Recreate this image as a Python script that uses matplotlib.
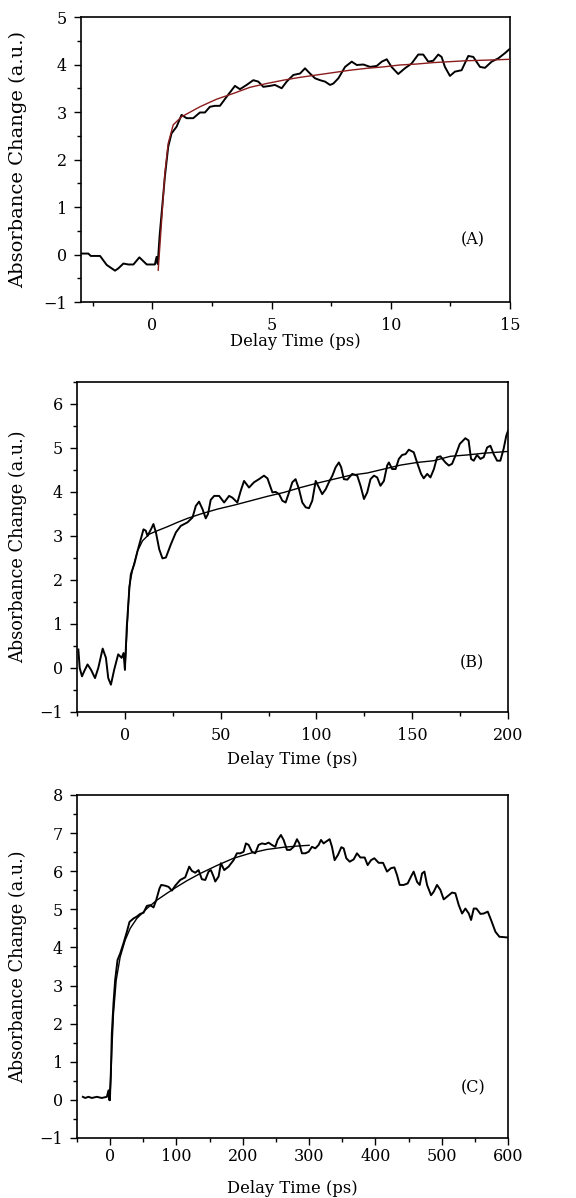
import matplotlib
matplotlib.use("Agg")
import matplotlib.pyplot as plt
from matplotlib.ticker import MultipleLocator

plt.rcParams['font.family'] = ['DejaVu Serif']
plt.rcParams['font.size'] = 11

# panel A (0-15 ps)
a_t = [-3.0, -2.69, -2.59, -2.2, -1.92, -1.57, -1.43, -1.22, -1.01, -0.8, -0.55, -0.24,
       0.1, 0.17, 0.22, 0.3, 0.52, 0.66, 0.8, 1.01, 1.22, 1.43, 1.71, 1.99, 2.2, 2.41,
       2.62, 2.83, 3.11, 3.46, 3.67, 3.95, 4.23, 4.44, 4.65, 4.93, 5.14, 5.42, 5.63,
       5.91, 6.19, 6.4, 6.61, 6.82, 7.03, 7.24, 7.45, 7.59, 7.8, 8.08, 8.36, 8.57,
       8.85, 9.13, 9.41, 9.62, 9.83, 10.03, 10.31, 10.59, 10.87, 11.15, 11.36, 11.57,
       11.78, 11.99, 12.13, 12.27, 12.48, 12.69, 12.97, 13.25, 13.46, 13.74, 13.95,
       14.23, 14.51, 14.79, 14.97]
a_data = [0.02, 0.02, -0.03, -0.03, -0.22, -0.34, -0.29, -0.19, -0.21, -0.21, -0.06, -0.21,
          -0.21, -0.05, -0.2, 0.4, 1.64, 2.27, 2.55, 2.69, 2.94, 2.87, 2.87, 2.99, 2.99,
          3.11, 3.13, 3.13, 3.32, 3.55, 3.48, 3.57, 3.67, 3.64, 3.53, 3.55, 3.57, 3.5,
          3.64, 3.78, 3.81, 3.92, 3.81, 3.71, 3.67, 3.64, 3.57, 3.6, 3.71, 3.95, 4.06,
          3.99, 4.0, 3.95, 3.97, 4.06, 4.11, 3.95, 3.8, 3.92, 4.02, 4.21, 4.21, 4.06,
          4.08, 4.21, 4.16, 3.95, 3.76, 3.85, 3.88, 4.18, 4.16, 3.95, 3.93, 4.06, 4.13,
          4.24, 4.32]
a_fit_t = [0.24, 0.52, 0.66, 0.87, 1.22, 1.99, 2.69, 3.39, 4.09, 4.79, 5.49, 6.19, 6.89,
           7.59, 8.29, 8.99, 9.69, 10.38, 11.08, 11.78, 12.48, 13.18, 13.88, 15.0]
a_fit = [-0.33, 1.71, 2.34, 2.73, 2.9, 3.11, 3.27, 3.39, 3.52, 3.6, 3.67, 3.73, 3.78,
         3.83, 3.88, 3.92, 3.95, 3.99, 4.01, 4.04, 4.06, 4.08, 4.09, 4.11]

# panel B (0-200 ps)
b_t = [-24.3, -23.6, -22.4, -21.2, -19.5, -17.7, -15.6, -13.9, -11.6, -9.9, -8.7, -7.3,
       -5.6, -3.5, -1.7, -0.7, 0.0, 1.0, 2.3, 3.1, 4.9, 6.6, 8.3, 9.7, 10.9, 11.8, 13.6,
       14.9, 16.2, 17.9, 19.6, 21.4, 24.0, 26.6, 29.2, 32.7, 35.3, 37.0, 38.7, 40.5,
       42.2, 43.4, 44.8, 46.6, 49.2, 51.8, 54.4, 56.1, 58.7, 60.5, 62.2, 64.8, 67.4,
       70.0, 72.6, 74.4, 75.8, 77.0, 78.7, 80.5, 82.2, 83.9, 85.7, 87.4, 89.1, 90.9,
       92.6, 94.4, 96.1, 97.8, 99.6, 101.3, 103.0, 104.8, 106.5, 108.3, 110.0, 111.7,
       112.9, 114.3, 116.1, 118.7, 121.3, 123.0, 124.8, 126.5, 128.2, 130.0, 131.7,
       133.4, 135.2, 136.9, 137.8, 139.5, 141.3, 143.0, 144.7, 146.5, 148.2, 150.8,
       152.5, 154.6, 156.0, 157.8, 159.5, 161.3, 163.0, 164.7, 167.3, 169.1, 170.8,
       172.5, 174.8, 177.7, 179.4, 180.7, 182.1, 183.8, 185.6, 187.3, 189.1, 190.8,
       192.5, 194.3, 196.0, 197.7, 199.1, 200.0]
b_data = [0.42, 0.0, -0.19, -0.07, 0.08, -0.04, -0.23, 0.0, 0.44, 0.23, -0.23, -0.38,
          -0.04, 0.31, 0.23, 0.34, -0.04, 0.95, 1.79, 2.13, 2.36, 2.66, 2.93, 3.15, 3.12,
          3.0, 3.15, 3.27, 3.08, 2.7, 2.49, 2.51, 2.81, 3.08, 3.23, 3.31, 3.42, 3.68,
          3.78, 3.61, 3.4, 3.5, 3.82, 3.91, 3.91, 3.76, 3.91, 3.87, 3.76, 4.03, 4.25,
          4.1, 4.22, 4.29, 4.37, 4.31, 4.14, 3.99, 4.0, 3.95, 3.8, 3.76, 3.99, 4.22,
          4.29, 4.06, 3.76, 3.65, 3.63, 3.8, 4.25, 4.1, 3.95, 4.06, 4.22, 4.37, 4.56,
          4.67, 4.56, 4.29, 4.28, 4.41, 4.37, 4.14, 3.84, 3.99, 4.29, 4.37, 4.33, 4.14,
          4.25, 4.6, 4.67, 4.52, 4.52, 4.75, 4.84, 4.86, 4.96, 4.9, 4.67, 4.41, 4.31,
          4.41, 4.33, 4.52, 4.79, 4.81, 4.67, 4.6, 4.64, 4.82, 5.09, 5.22, 5.17, 4.75,
          4.71, 4.84, 4.75, 4.79, 5.01, 5.05, 4.86, 4.71, 4.71, 4.98, 5.28, 5.39]
b_fit_t = [0.0, 2.3, 4.0, 6.6, 9.2, 12.7, 17.0, 22.2, 27.5, 32.7, 39.6, 48.3, 57.0, 65.7,
           74.4, 83.1, 91.7, 100.4, 109.1, 117.8, 126.5, 135.2, 143.9, 152.6, 161.3,
           169.9, 178.6, 187.3, 200.0]
b_fit = [-0.04, 1.86, 2.24, 2.66, 2.89, 3.04, 3.12, 3.21, 3.31, 3.4, 3.5, 3.61, 3.7, 3.8,
         3.9, 3.99, 4.1, 4.2, 4.29, 4.38, 4.43, 4.52, 4.61, 4.67, 4.71, 4.81, 4.84,
         4.88, 4.92]

# panel C (0-600 ps)
c_t = [-41.2, -37.7, -32.7, -27.7, -20.1, -12.6, -5.0, -2.5, -1.0, 1.0, 2.5, 5.0, 7.5,
       11.1, 15.1, 20.1, 25.2, 29.2, 35.2, 40.2, 45.3, 50.3, 55.3, 60.4, 65.4, 69.4,
       74.4, 77.0, 83.0, 88.0, 93.1, 98.1, 105.6, 113.2, 119.2, 123.2, 128.3, 133.3,
       138.3, 143.4, 148.4, 151.9, 155.9, 158.5, 163.5, 167.0, 172.0, 178.6, 186.1,
       191.1, 196.2, 201.2, 204.7, 208.8, 213.8, 218.8, 223.8, 228.9, 233.9, 238.9,
       243.9, 249.0, 252.5, 257.5, 261.6, 266.6, 271.6, 276.7, 281.7, 285.2, 289.2,
       294.3, 299.3, 304.3, 309.4, 314.4, 317.9, 321.9, 325.9, 331.0, 334.5, 338.5,
       343.6, 348.6, 352.1, 356.1, 361.2, 367.2, 372.2, 377.3, 383.8, 388.3, 393.4,
       398.4, 404.9, 411.5, 417.5, 423.5, 428.6, 432.6, 436.6, 442.7, 448.7, 453.7,
       457.7, 462.8, 466.8, 470.3, 473.9, 477.9, 483.9, 487.9, 492.9, 498.0, 503.0,
       510.6, 515.6, 520.6, 525.7, 530.7, 535.7, 540.8, 544.3, 548.3, 552.3, 558.4,
       563.4, 569.4, 574.4, 581.0, 587.0, 600.0]
c_data = [0.08, 0.05, 0.08, 0.05, 0.08, 0.05, 0.08, 0.25, -0.01, 0.69, 1.74, 2.53, 3.14,
          3.67, 3.84, 4.11, 4.41, 4.67, 4.76, 4.81, 4.88, 4.91, 5.09, 5.11, 5.05, 5.24,
          5.55, 5.64, 5.62, 5.59, 5.49, 5.62, 5.77, 5.84, 6.12, 6.01, 5.96, 6.03, 5.79,
          5.77, 5.99, 6.03, 5.86, 5.73, 5.86, 6.21, 6.03, 6.12, 6.29, 6.47, 6.47, 6.51,
          6.73, 6.69, 6.51, 6.47, 6.69, 6.73, 6.71, 6.75, 6.69, 6.64, 6.82, 6.95, 6.82,
          6.56, 6.56, 6.64, 6.84, 6.73, 6.47, 6.47, 6.51, 6.64, 6.6, 6.69, 6.82, 6.73,
          6.78, 6.84, 6.64, 6.29, 6.43, 6.63, 6.6, 6.34, 6.25, 6.31, 6.47, 6.36, 6.36,
          6.16, 6.29, 6.34, 6.22, 6.22, 5.99, 6.08, 6.1, 5.9, 5.64, 5.64, 5.68, 5.86,
          5.99, 5.72, 5.64, 5.94, 5.99, 5.64, 5.37, 5.46, 5.64, 5.51, 5.26, 5.37, 5.44,
          5.42, 5.11, 4.89, 5.02, 4.89, 4.72, 5.02, 5.02, 4.88, 4.89, 4.94, 4.72, 4.41,
          4.28, 4.26]
c_fit_t = [0.0, 2.5, 5.0, 9.1, 15.1, 22.6, 30.2, 40.2, 55.3, 70.4, 85.5, 100.6, 115.7,
           135.8, 161.0, 186.0, 211.0, 236.0, 262.0, 282.0, 300.0]
c_fit = [-0.01, 1.3, 2.27, 3.14, 3.75, 4.19, 4.5, 4.76, 5.02, 5.24, 5.42, 5.59, 5.75,
         5.94, 6.15, 6.34, 6.47, 6.57, 6.63, 6.66, 6.68]

panels = [
    dict(t=a_t, y=a_data, ft=a_fit_t, fy=a_fit, fc='#8b1c1c', xlim=(-3, 15), ylim=(-1, 5),
         xmaj=5, xmin=2.5, label='(A)', rect=[0.1406, 0.7479, 0.7448, 0.2379],
         lab=(0.914, 0.218), xpad=6, xl=-0.108, yl=-0.126, yfs=14),
    dict(t=b_t, y=b_data, ft=b_fit_t, fy=b_fit, fc='black', xlim=(-25, 200), ylim=(-1, 6.5),
         xmaj=50, xmin=25, label='(B)', rect=[0.1337, 0.4057, 0.7483, 0.2755],
         lab=(0.916, 0.148), xpad=6, xl=-0.118, yl=-0.116, yfs=12.8),
    dict(t=c_t, y=c_data, ft=c_fit_t, fy=c_fit, fc='black', xlim=(-50, 600), ylim=(-1, 8),
         xmaj=100, xmin=50, label='(C)', rect=[0.1337, 0.0501, 0.7483, 0.2863],
         lab=(0.919, 0.146), xpad=2, xl=-0.123, yl=-0.116, yfs=12.8),
]

fig = plt.figure(figsize=(5.76, 11.98), dpi=100)

for p in panels:
    ax = fig.add_axes(p['rect'])
    ax.plot(p['t'], p['y'], color='black', lw=1.4, zorder=2)
    ax.plot(p['ft'], p['fy'], color=p['fc'], lw=1.0, zorder=3)
    ax.set_xlim(*p['xlim'])
    ax.set_ylim(*p['ylim'])
    ax.xaxis.set_major_locator(MultipleLocator(p['xmaj']))
    ax.xaxis.set_minor_locator(MultipleLocator(p['xmin']))
    ax.yaxis.set_major_locator(MultipleLocator(1))
    ax.yaxis.set_minor_locator(MultipleLocator(0.5))
    ax.tick_params(which='major', direction='out', length=5, width=1, labelsize=11.5)
    ax.tick_params(which='minor', direction='out', length=3, width=1)
    ax.tick_params(axis='x', which='major', pad=p['xpad'])
    ax.tick_params(axis='y', which='major', pad=5)
    for s in ax.spines.values():
        s.set_linewidth(1.2)
    ax.set_xlabel('Delay Time (ps)', fontsize=11.8)
    ax.set_ylabel('Absorbance Change (a.u.)', fontsize=p['yfs'])
    ax.xaxis.set_label_coords(0.5, p['xl'])
    ax.yaxis.set_label_coords(p['yl'], 0.5)
    ax.text(p['lab'][0], p['lab'][1], p['label'], transform=ax.transAxes,
            ha='center', va='center', fontsize=11.5)

fig.savefig('out.png', dpi=100)
